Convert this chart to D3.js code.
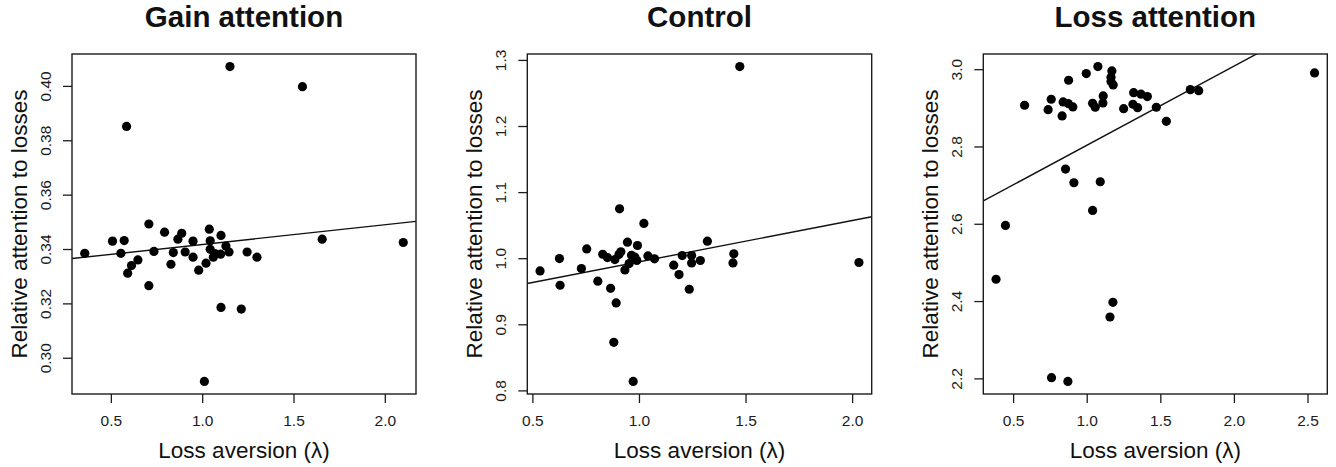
<!DOCTYPE html>
<html>
<head>
<meta charset="utf-8">
<script src="https://cdn.jsdelivr.net/npm/d3@7"></script>
<style>
  body { margin: 0; background: #fff; }
  svg { display: block; font-family: "Liberation Sans", Arial, Helvetica, sans-serif; }
</style>
</head>
<body>
<svg id="chart" width="1336" height="467"></svg>
<script>
// panel titles
var titles = ["Gain attention", "Control", "Loss attention"];

// gain attention condition
var gainX = [1.152, 1.549, 0.586, 0.708, 0.357, 0.509, 0.573, 0.555, 0.613, 0.592,
  0.648, 0.708, 0.736, 0.794, 0.867, 0.888, 0.842, 0.829, 0.907, 0.950,
  0.950, 0.981, 1.021, 1.039, 1.044, 1.044, 1.061, 1.070, 1.103, 1.130,
  1.101, 1.147, 1.246, 1.300, 1.103, 1.214, 1.012, 1.657, 2.101];
var gainY = [0.4071, 0.3997, 0.3851, 0.3492, 0.3384, 0.3429, 0.3431, 0.3384, 0.3339, 0.3311,
  0.3360, 0.3265, 0.3391, 0.3462, 0.3436, 0.3458, 0.3387, 0.3344, 0.3389, 0.3429,
  0.3370, 0.3322, 0.3348, 0.3473, 0.3430, 0.3399, 0.3370, 0.3383, 0.3450, 0.3411,
  0.3381, 0.3389, 0.3389, 0.3370, 0.3185, 0.3179, 0.2913, 0.3436, 0.3424];

// control condition
var controlX = [1.473, 0.909, 1.023, 0.536, 0.627, 0.630, 0.730, 0.755, 0.807, 0.830,
  0.852, 0.867, 0.893, 0.882, 0.887, 0.906, 0.915, 0.934, 0.946, 0.954,
  0.965, 0.981, 0.993, 0.990, 0.973, 1.042, 1.073, 1.163, 1.188, 1.203,
  1.236, 1.247, 1.247, 1.288, 1.321, 1.445, 1.441, 2.032];
var controlY = [1.2899, 1.0747, 1.0526, 0.9808, 0.9995, 0.9591, 0.9844, 1.0141, 0.9652, 1.0060,
  1.0010, 0.9545, 0.9323, 0.8727, 0.9980, 1.0056, 1.0096, 0.9823, 1.0242, 0.9919,
  1.0045, 1.0015, 1.0192, 0.9965, 0.8136, 1.0035, 0.9990, 0.9894, 0.9753, 1.0040,
  0.9530, 1.0040, 0.9929, 0.9965, 1.0258, 1.0066, 0.9929, 0.9935];

// loss attention condition
var lossX = [2.548, 0.578, 0.738, 0.759, 0.833, 0.840, 0.874, 0.906, 0.877, 0.997,
  1.076, 1.040, 1.058, 1.112, 1.110, 1.171, 1.165, 1.165, 1.180, 1.251,
  1.319, 1.314, 1.346, 1.369, 1.412, 1.473, 1.541, 1.704, 1.761, 0.856,
  0.913, 1.092, 1.040, 0.448, 0.384, 1.178, 1.158, 0.761, 0.872];
var lossY = [2.9904, 2.9067, 2.8953, 2.9222, 2.8790, 2.9152, 2.9109, 2.9023, 2.9714, 2.9886,
  3.0067, 2.9119, 2.9015, 2.9308, 2.9127, 2.9956, 2.9793, 2.9679, 2.9593, 2.8979,
  2.9393, 2.9093, 2.9005, 2.9352, 2.9290, 2.9015, 2.8652, 2.9471, 2.9445, 2.7416,
  2.7061, 2.7087, 2.6345, 2.5957, 2.4565, 2.3968, 2.3587, 2.2017, 2.1921];

// fitted lines (intercept, slope)
var fitIntercept = [0.3344, 0.9321, 2.598];
var fitSlope = [0.00726, 0.0624, 0.2049];

// tick labels
var xTicks = [[0.5, 1.0, 1.5, 2.0], [0.5, 1.0, 1.5, 2.0], [0.5, 1.0, 1.5, 2.0, 2.5]];
var yTicks = [[0.30, 0.32, 0.34, 0.36, 0.38, 0.40],
  [0.8, 0.9, 1.0, 1.1, 1.2, 1.3],
  [2.2, 2.4, 2.6, 2.8, 3.0]];
var xFormat = [".1f", ".1f", ".1f"];
var yFormat = [".2f", ".1f", ".1f"];

var xLabel = "Loss aversion (\u03bb)";
var yLabel = "Relative attention to losses";

var xs = [gainX, controlX, lossX];
var ys = [gainY, controlY, lossY];

// plot box of each panel
var boxes = [
  { left: 72, right: 416 },
  { left: 527.3, right: 871.7 },
  { left: 983.3, right: 1327.3 }
];
var plotTop = 54, plotBottom = 394;
var ink = "#1c1c1c";

var svg = d3.select("#chart");

// R style range: data extent widened by 4%
function rRange(v) {
  var e = d3.extent(v), pad = (e[1] - e[0]) * 0.04;
  return [e[0] - pad, e[1] + pad];
}

boxes.forEach(function (b, i) {
  var x = d3.scaleLinear().domain(rRange(xs[i])).range([b.left, b.right]);
  var y = d3.scaleLinear().domain(rRange(ys[i])).range([plotBottom, plotTop]);
  var g = svg.append("g");

  g.append("clipPath").attr("id", "clip" + i)
    .append("rect")
    .attr("x", b.left).attr("y", plotTop)
    .attr("width", b.right - b.left).attr("height", plotBottom - plotTop);

  // title
  g.append("text")
    .attr("x", (b.left + b.right) / 2)
    .attr("y", 27)
    .attr("text-anchor", "middle")
    .style("font-size", "29.5px")
    .style("font-weight", "bold")
    .style("fill", "#111")
    .text(titles[i]);

  // x axis
  var xa = g.append("g")
    .attr("transform", "translate(0," + plotBottom + ")")
    .call(d3.axisBottom(x).tickValues(xTicks[i]).tickFormat(d3.format(xFormat[i]))
      .tickSize(9).tickPadding(12));
  xa.select(".domain").remove();
  xa.attr("font-size", null).attr("font-family", null);
  xa.selectAll("line").attr("stroke", ink).attr("stroke-width", 1.3);
  xa.selectAll("text")
    .style("font-size", "15.5px")
    .attr("fill", ink);

  // y axis with labels parallel to the axis
  var ya = g.append("g")
    .attr("transform", "translate(" + b.left + ",0)")
    .call(d3.axisLeft(y).tickValues(yTicks[i]).tickFormat(d3.format(yFormat[i]))
      .tickSize(9));
  ya.select(".domain").remove();
  ya.attr("font-size", null).attr("font-family", null);
  ya.selectAll("line").attr("stroke", ink).attr("stroke-width", 1.3);
  ya.selectAll("text")
    .attr("x", null).attr("dy", null)
    .attr("transform", "translate(-21,0) rotate(-90)")
    .attr("text-anchor", "middle")
    .style("font-size", "15.5px")
    .attr("fill", ink);

  // axis titles
  g.append("text")
    .attr("x", (b.left + b.right) / 2)
    .attr("y", plotBottom + 64)
    .attr("text-anchor", "middle")
    .style("font-size", "22.5px")
    .style("fill", "#111")
    .text(xLabel);

  g.append("text")
    .attr("transform", "translate(" + (b.left - 45) + "," + ((plotTop + plotBottom) / 2) + ") rotate(-90)")
    .attr("text-anchor", "middle")
    .style("font-size", "22.5px")
    .style("fill", "#111")
    .text(yLabel);

  // regression line
  var d0 = x.domain();
  g.append("line")
    .attr("clip-path", "url(#clip" + i + ")")
    .attr("x1", x(d0[0])).attr("y1", y(fitIntercept[i] + fitSlope[i] * d0[0]))
    .attr("x2", x(d0[1])).attr("y2", y(fitIntercept[i] + fitSlope[i] * d0[1]))
    .attr("stroke", "#111")
    .attr("stroke-width", 1.4);

  // points
  g.append("g").selectAll("circle")
    .data(xs[i])
    .enter()
    .append("circle")
    .attr("cx", function (d) { return x(d); })
    .attr("cy", function (d, j) { return y(ys[i][j]); })
    .attr("r", 4.6)
    .style("fill", "#000");

  // frame
  g.append("rect")
    .attr("x", b.left).attr("y", plotTop)
    .attr("width", b.right - b.left).attr("height", plotBottom - plotTop)
    .attr("fill", "none")
    .attr("stroke", ink)
    .attr("stroke-width", 1.4);
});
</script>
</body>
</html>
